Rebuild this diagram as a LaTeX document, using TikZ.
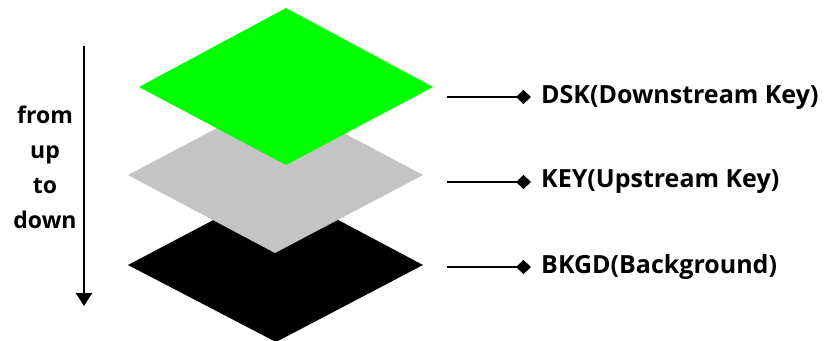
\documentclass[tikz,border=0pt]{standalone}
\usepackage{fontspec}
\setmainfont{Open Sans}
\usetikzlibrary{arrows.meta}
\begin{document}
\begin{tikzpicture}[x=1pt,y=-1pt,
  lbl/.style={anchor=west,inner sep=0pt,font=\bfseries\fontsize{25}{28}\selectfont},
  lead/.style={line width=2.2pt,-{Diamond[length=15pt,width=14pt]}},
  side/.style={align=center,inner sep=0pt,font=\bfseries\fontsize{23}{35}\selectfont}]
\useasboundingbox (0,0) rectangle (827,340);
% layers
\fill[black] (128,265) -- (276,187) -- (423,265) -- (276,342) -- cycle;
\fill[black!23] (128,175) -- (276,97) -- (423,175) -- (275,253) -- cycle;
\fill[green] (139,87) -- (286,8) -- (433,87) -- (286,165) -- cycle;
% side arrow
\coordinate (atop) at (84,46);
\coordinate (abot) at (84,306);
\draw[line width=2pt,-{Triangle[length=13pt,width=16pt]}] (atop) -- (abot);
\node[side] (dir) at (45,167) {from\\up\\to\\down};
% labels
\node[lbl] (dsk) at (541,97) {DSK(Downstream Key)};
\node[lbl] (key) at (541,182) {KEY(Upstream Key)};
\node[lbl] (bkgd) at (541,267) {BKGD(Background)};
\coordinate (s1) at (447,97);
\coordinate (s2) at (447,182);
\coordinate (s3) at (447,267);
\draw[lead] (s1) -- ([xshift=-10pt]dsk.west);
\draw[lead] (s2) -- ([xshift=-10pt]key.west);
\draw[lead] (s3) -- ([xshift=-10pt]bkgd.west);
\end{tikzpicture}
\end{document}
